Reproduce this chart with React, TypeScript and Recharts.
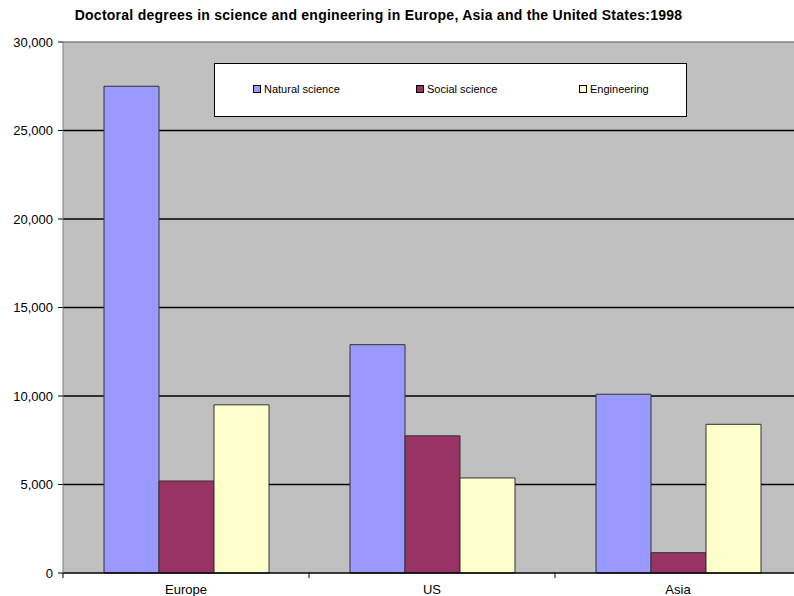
import React from 'react';
import {
  BarChart,
  Bar,
  XAxis,
  YAxis,
  CartesianGrid,
  Legend,
  ReferenceLine,
} from 'recharts';

// Doctoral degrees awarded in 1998, by region and field
const regions = ['Europe', 'US', 'Asia'];
const naturalScience = [27500, 12900, 10100];
const socialScience = [5200, 7750, 1150];
const engineering = [9500, 5370, 8400];

const yTicks = [0, 5000, 10000, 15000, 20000, 25000, 30000];
const gridValues = [5000, 10000, 15000, 20000, 25000];

const seriesNames = ['Natural science', 'Social science', 'Engineering'];
const seriesColors = ['#9999FF', '#993366', '#FFFFCC'];

const data = regions.map((region, i) => ({
  region,
  natural: naturalScience[i],
  social: socialScience[i],
  engineering: engineering[i],
}));

const FONT = '"Liberation Sans", Arial, sans-serif';

const fmt = (v: number) => v.toLocaleString('en-US');

const LegendBox = (props: any) => {
  const payload = props.payload || [];
  // keep the series order of the bars
  const ordered = seriesNames
    .map((name) => payload.find((p: any) => p.value === name))
    .filter(Boolean);
  return (
    <div
      style={{
        position: 'relative',
        width: 473,
        height: 54,
        boxSizing: 'border-box',
        background: '#FFFFFF',
        border: '1px solid #000',
        fontFamily: FONT,
        fontSize: 11,
        color: '#000',
      }}
    >
      {ordered.map((entry: any, i: number) => (
        <div
          key={entry.value}
          style={{
            position: 'absolute',
            left: 38 + i * 163,
            top: 18,
            display: 'flex',
            alignItems: 'center',
            whiteSpace: 'nowrap',
          }}
        >
          <span
            style={{
              display: 'inline-block',
              width: 8,
              height: 8,
              boxSizing: 'border-box',
              border: '1px solid #000',
              background: entry.color,
              marginRight: 3,
            }}
          />
          <span style={{ lineHeight: '14px' }}>{entry.value}</span>
        </div>
      ))}
    </div>
  );
};

// Category label at the band centre, tick marks at the band boundaries
const RegionTick = (props: any) => {
  const { x, y, payload, index, visibleTicksCount } = props;
  const half = payload.offset || 0;
  const axisY = y - 8;
  const isLast = index === (visibleTicksCount ?? regions.length) - 1;
  return (
    <g>
      <line x1={x - half} x2={x - half} y1={axisY} y2={axisY + 5} stroke="#000" />
      {isLast && (
        <line x1={x + half} x2={x + half} y1={axisY} y2={axisY + 5} stroke="#000" />
      )}
      <text
        x={x}
        y={y + 13}
        textAnchor="middle"
        fontFamily={FONT}
        fontSize={13}
        fill="#000"
      >
        {payload.value}
      </text>
    </g>
  );
};

export default function App() {
  return (
    <div
      style={{
        position: 'absolute',
        left: 0,
        top: 0,
        width: 794,
        height: 596,
        overflow: 'hidden',
        background: '#FFFFFF',
      }}
    >
      <div
        style={{
          position: 'absolute',
          left: 0,
          top: 7,
          width: 794,
          textAlign: 'center',
          fontFamily: FONT,
          fontWeight: 'bold',
          fontSize: 14,
          letterSpacing: 0.25,
          paddingRight: 37,
          boxSizing: 'border-box',
          color: '#000',
          whiteSpace: 'nowrap',
          zIndex: 2,
        }}
      >
        Doctoral degrees in science and engineering in Europe, Asia and the United States:1998
      </div>
      <BarChart
        width={810}
        height={596}
        data={data}
        margin={{ top: 42, right: 9, left: 0, bottom: 0 }}
        barCategoryGap="16.67%"
        barGap={0}
      >
        <CartesianGrid
          fill="#C0C0C0"
          stroke="#000"
          strokeWidth={1.5}
          vertical={false}
          horizontalValues={gridValues}
        />
        <XAxis
          dataKey="region"
          tick={<RegionTick />}
          tickLine={false}
          tickSize={6}
          tickMargin={2}
          axisLine={{ stroke: '#000', strokeWidth: 1.5 }}
          height={23}
          interval={0}
        />
        <YAxis
          width={63}
          domain={[0, 30000]}
          ticks={yTicks}
          tickFormatter={fmt}
          tick={{ fontFamily: FONT, fontSize: 13, fill: '#000' }}
          tickLine={{ stroke: '#000' }}
          tickSize={5}
          tickMargin={5}
          axisLine={{ stroke: '#808080' }}
          interval={0}
        />
        <ReferenceLine y={30000} stroke="#808080" strokeWidth={1.5} />
        <Legend
          layout="vertical"
          align="center"
          verticalAlign="middle"
          content={<LegendBox />}
          wrapperStyle={{ left: 214, top: 63, width: 473, height: 54 }}
        />
        <Bar
          dataKey="natural"
          name={seriesNames[0]}
          fill={seriesColors[0]}
          stroke="#333"
          strokeWidth={1}
          isAnimationActive={false}
        />
        <Bar
          dataKey="social"
          name={seriesNames[1]}
          fill={seriesColors[1]}
          stroke="#333"
          strokeWidth={1}
          isAnimationActive={false}
        />
        <Bar
          dataKey="engineering"
          name={seriesNames[2]}
          fill={seriesColors[2]}
          stroke="#333"
          strokeWidth={1}
          isAnimationActive={false}
        />
      </BarChart>
    </div>
  );
}
